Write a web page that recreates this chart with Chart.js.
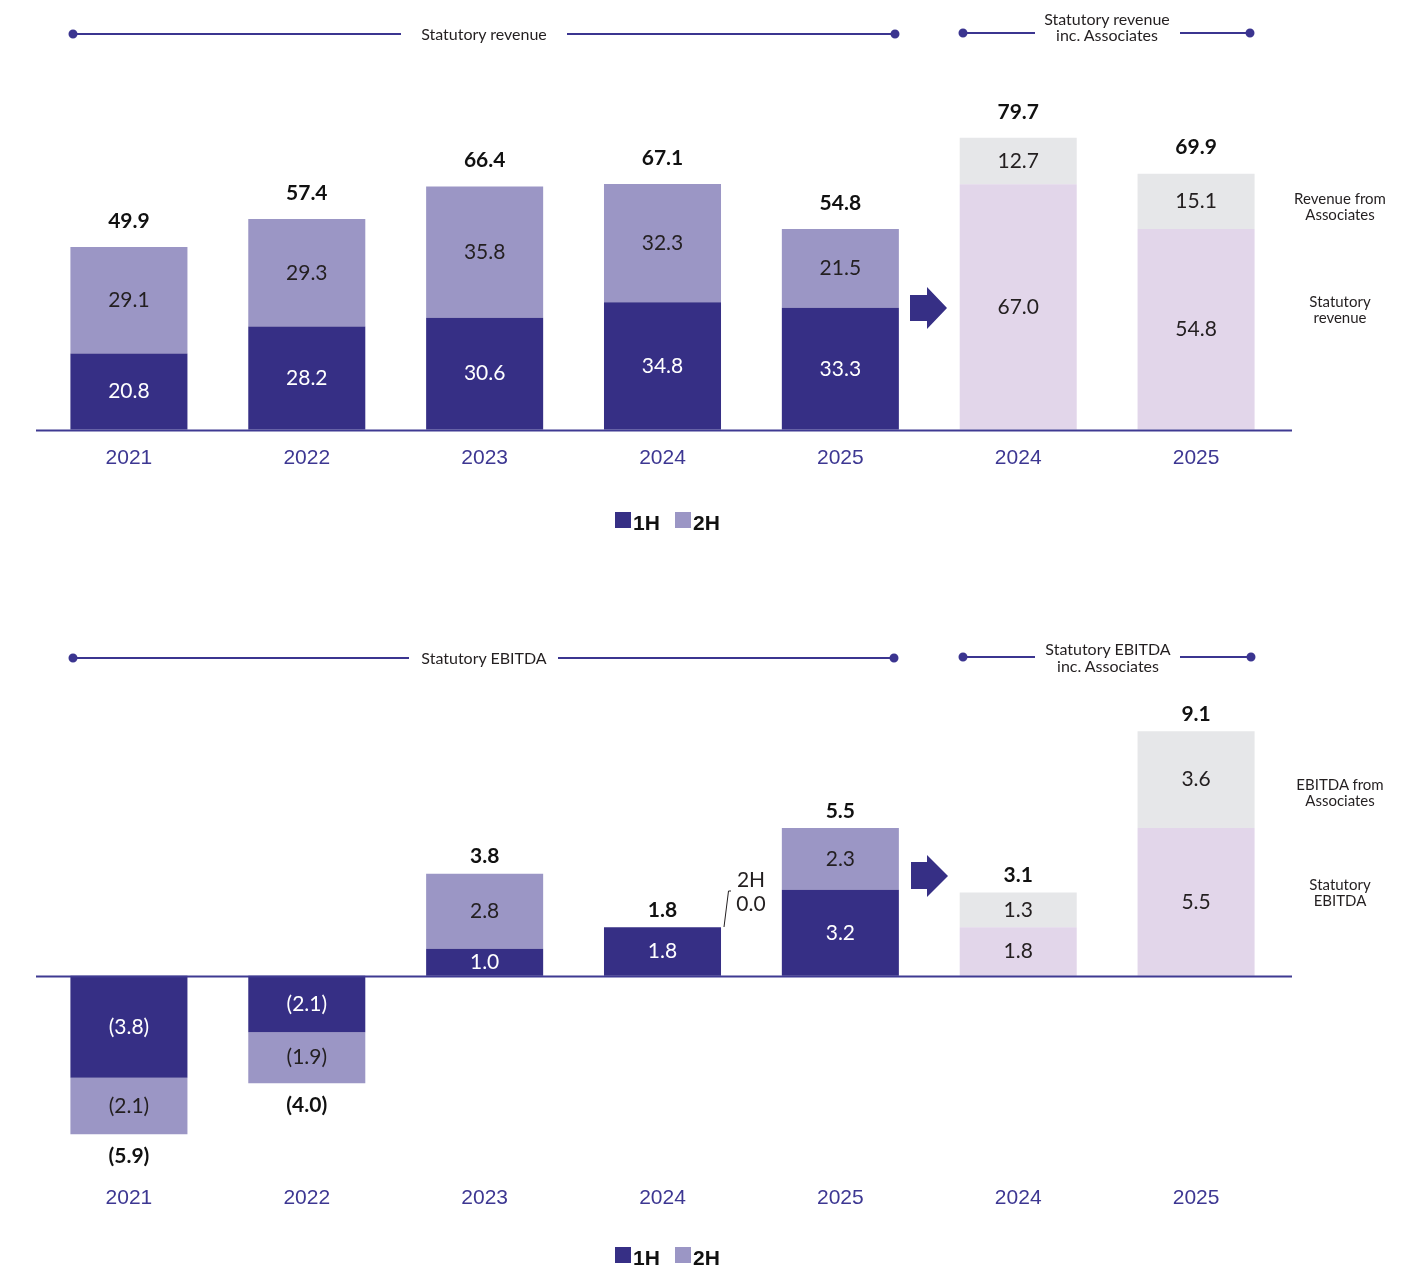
<!DOCTYPE html>
<html>
<head>
<meta charset="utf-8">
<script src="https://cdn.jsdelivr.net/npm/chart.js@4.4.1/dist/chart.umd.min.js"></script>
<style>
body{margin:0;background:#fff;color:#231f20;font-family:Lato, sans-serif;}
#page{position:relative;width:1421px;height:1270px;overflow:hidden;background:#fff;}
canvas{position:absolute;left:0;}
svg{position:absolute;left:0;top:0;}
.t{position:absolute;text-align:center;white-space:nowrap;transform:translate(-50%,-50%);font-size:16px;line-height:16px;}
.n{position:absolute;text-align:center;white-space:nowrap;transform:translate(-50%,-50%);font-size:21px;line-height:21px;}
.sq{position:absolute;width:16px;height:16px;}
.lg{position:absolute;font-family:"Liberation Sans", Arial, sans-serif;font-size:21px;line-height:21px;color:#111;font-weight:bold;}
</style>
</head>
<body>
<div id="page">
<canvas id="revChart" width="1421" height="490" style="top:0"></canvas>
<canvas id="ebitdaChart" width="1421" height="710" style="top:560px"></canvas>

<svg width="1421" height="1270">
  <g stroke="#3b3590" stroke-width="2" fill="#3b3590">
    <line x1="73" y1="34" x2="401" y2="34"/><line x1="567" y1="34" x2="895" y2="34"/>
    <circle cx="73" cy="34" r="3.5"/><circle cx="895" cy="34" r="3.5"/>
    <line x1="963" y1="33" x2="1035" y2="33"/><line x1="1180" y1="33" x2="1250" y2="33"/>
    <circle cx="963" cy="33" r="3.5"/><circle cx="1250" cy="33" r="3.5"/>
    <line x1="73" y1="658" x2="409" y2="658"/><line x1="558" y1="658" x2="894" y2="658"/>
    <circle cx="73" cy="658" r="3.5"/><circle cx="894" cy="658" r="3.5"/>
    <line x1="963" y1="657" x2="1035" y2="657"/><line x1="1180" y1="657" x2="1251" y2="657"/>
    <circle cx="963" cy="657" r="3.5"/><circle cx="1251" cy="657" r="3.5"/>
  </g>
  <polygon fill="#362f85" points="910,295 927,295 927,287 947,308 927,329 927,321 910,321"/>
  <polygon fill="#362f85" points="911,862 927,862 927,855 948,876 927,897 927,889 911,889"/>
  <polyline fill="none" stroke="#231f20" stroke-width="1" points="724,927 728.5,891 731,891"/>
</svg>

<div class="t" style="left:484px;top:34px">Statutory revenue</div>
<div class="t" style="left:1107px;top:27px">Statutory revenue<br>inc. Associates</div>
<div class="t" style="left:1340px;top:206px;font-size:15px">Revenue from<br>Associates</div>
<div class="t" style="left:1340px;top:309px;font-size:15px">Statutory<br>revenue</div>

<div class="t" style="left:484px;top:658px">Statutory EBITDA</div>
<div class="t" style="left:1108px;top:657px;line-height:17px">Statutory EBITDA<br>inc. Associates</div>
<div class="t" style="left:1340px;top:792px;font-size:15px">EBITDA from<br>Associates</div>
<div class="t" style="left:1340px;top:892px;font-size:15px">Statutory<br>EBITDA</div>

<div class="n" style="left:751px;top:878px">2H</div>
<div class="n" style="left:751px;top:902px">0.0</div>

<div class="sq" style="left:615px;top:512px;background:#362f85"></div>
<div class="lg" style="left:633px;top:512px">1H</div>
<div class="sq" style="left:675px;top:512px;background:#9b96c5"></div>
<div class="lg" style="left:693px;top:512px">2H</div>

<div class="sq" style="left:615px;top:1247px;background:#362f85"></div>
<div class="lg" style="left:633px;top:1247px">1H</div>
<div class="sq" style="left:675px;top:1247px;background:#9b96c5"></div>
<div class="lg" style="left:693px;top:1247px">2H</div>
</div>

<script>
// categories
const years = ['2021', '2022', '2023', '2024', '2025', '2024', '2025'];

// Statutory revenue
const rev1H = [20.8, 28.2, 30.6, 34.8, 33.3, null, null];
const rev2H = [29.1, 29.3, 35.8, 32.3, 21.5, null, null];
const revStatutory = [null, null, null, null, null, 67.0, 54.8];
const revAssociates = [null, null, null, null, null, 12.7, 15.1];
const revTotals = [49.9, 57.4, 66.4, 67.1, 54.8, 79.7, 69.9];

// Statutory EBITDA
const ebitda1H = [-3.8, -2.1, 1.0, 1.8, 3.2, null, null];
const ebitda2H = [-2.1, -1.9, 2.8, 0.0, 2.3, null, null];
const ebitdaStatutory = [null, null, null, null, null, 1.8, 5.5];
const ebitdaAssociates = [null, null, null, null, null, 1.3, 3.6];
const ebitdaTotals = [-5.9, -4.0, 3.8, 1.8, 5.5, 3.1, 9.1];

const DARK = '#362f85';
const LIGHT = '#9b96c5';
const LAVENDER = '#e2d6ea';
const GREY = '#e6e7e9';
const AXIS = '#3f3a92';

function fmt(v){
	return v < 0 ? '(' + Math.abs(v).toFixed(1) + ')' : v.toFixed(1);
}

// BEGIN labels + baseline plugin
const barLabels = {
	id: 'barLabels',
	afterDatasetsDraw(chart, args, opts){
		let ctx = chart.ctx;
		let x = chart.scales.x;
		let y = chart.scales.y;
		ctx.save();
		ctx.textAlign = 'center';
		ctx.textBaseline = 'middle';

		chart.data.datasets.forEach(function(ds, di){
			let meta = chart.getDatasetMeta(di);
			meta.data.forEach(function(bar, i){
				let v = ds.data[i];
				if (v === null || v === 0) {return}
				ctx.font = '21px Lato';
				ctx.fillStyle = ds.labelColor;
				ctx.fillText(fmt(v), bar.x, (bar.y + bar.base) / 2);
			});
		});

		ctx.font = 'bold 21px Lato';
		ctx.fillStyle = '#111';
		opts.totals.forEach(function(t, i){
			let py = y.getPixelForValue(t) + (t < 0 ? opts.below : -opts.above);
			ctx.fillText(fmt(t), x.getPixelForValue(i), py);
		});

		// zero line across the whole chart
		let zero = Math.round(y.getPixelForValue(0)) + 0.5;
		ctx.strokeStyle = AXIS;
		ctx.lineWidth = 2;
		ctx.beginPath();
		ctx.moveTo(36, zero);
		ctx.lineTo(1292, zero);
		ctx.stroke();
		ctx.restore();
	}
};
// END labels + baseline plugin

function makeChart(id, series, yMin, yMax, padding, tickPad, labelOpts){
	let datasets = [
		{label: '1H', data: series[0], backgroundColor: DARK, labelColor: '#fff'},
		{label: '2H', data: series[1], backgroundColor: LIGHT, labelColor: '#231f20'},
		{label: 'Statutory', data: series[2], backgroundColor: LAVENDER, labelColor: '#231f20'},
		{label: 'Associates', data: series[3], backgroundColor: GREY, labelColor: '#231f20'}
	];
	datasets.forEach(function(d){
		d.barPercentage = 0.658;
		d.categoryPercentage = 1;
		d.borderWidth = 0;
	});

	return new Chart(document.getElementById(id), {
		type: 'bar',
		data: {labels: years, datasets: datasets},
		options: {
			responsive: false,
			animation: false,
			layout: {padding: padding},
			plugins: {
				legend: {display: false},
				tooltip: {enabled: false},
				barLabels: labelOpts
			},
			scales: {
				x: {
					stacked: true,
					grid: {display: false},
					border: {display: false},
					ticks: {
						padding: tickPad,
						color: '#3d3792',
						font: {family: '"Liberation Sans", Arial, sans-serif', size: 21}
					}
				},
				y: {stacked: true, display: false, min: yMin, max: yMax}
			}
		},
		plugins: [barLabels]
	});
}

makeChart('revChart', [rev1H, rev2H, revStatutory, revAssociates], 0, 90,
	{top: 100, left: 40, right: 136, bottom: 11}, 8,
	{totals: revTotals, above: 26, below: 22});

makeChart('ebitdaChart', [ebitda1H, ebitda2H, ebitdaStatutory, ebitdaAssociates], -7, 10.3,
	{top: 139, left: 40, right: 136, bottom: 45}, 14,
	{totals: ebitdaTotals, above: 17, below: 22});
</script>
</body>
</html>
